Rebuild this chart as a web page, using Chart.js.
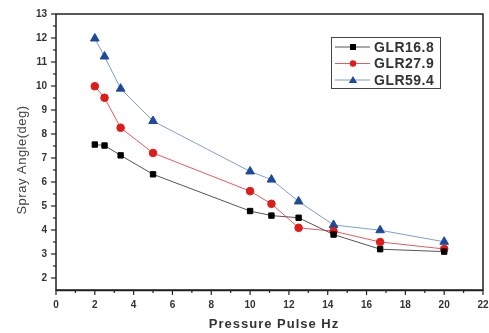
<!DOCTYPE html>
<html>
<head>
<meta charset="utf-8">
<script src="https://cdn.jsdelivr.net/npm/chart.js@4"></script>
<style>
  html, body { margin: 0; padding: 0; background: #fff; }
  #wrap { width: 489px; height: 333px; }
</style>
</head>
<body>
<div id="wrap"><canvas id="sprayChart"></canvas></div>
<script>
const pulseHz = [2, 2.5, 3.33, 5, 10, 11.1, 12.5, 14.3, 16.7, 20]
const glr168 = [7.56, 7.52, 7.11, 6.32, 4.79, 4.6, 4.51, 3.81, 3.2, 3.1]
const glr279 = [9.99, 9.51, 8.26, 7.21, 5.62, 5.09, 4.09, 3.95, 3.5, 3.21]
const glr594 = [11.98, 11.23, 9.89, 8.54, 6.44, 6.1, 5.19, 4.21, 3.99, 3.51]
const seriesNames = ['GLR16.8', 'GLR27.9', 'GLR59.4']
const xTicks = [0, 2, 4, 6, 8, 10, 12, 14, 16, 18, 20, 22]
const yTicks = [2, 3, 4, 5, 6, 7, 8, 9, 10, 11, 12, 13]

const toPoints = (vals) => vals.map((v, i) => ({ x: pulseHz[i], y: v }))

const tickFont = { family: 'Liberation Sans', size: 10, weight: 'bold' }

// frame, tick marks, titles and legend box
const decor = {
    id: 'decor',
    afterDraw(chart) {
        const ctx = chart.ctx
        const a = chart.chartArea
        const xs = chart.scales.x
        const ys = chart.scales.y
        ctx.save()
        ctx.strokeStyle = '#222'
        ctx.lineWidth = 1.5
        ctx.strokeRect(a.left, a.top, a.right - a.left, a.bottom - a.top)
        ctx.lineWidth = 1.5
        ctx.beginPath()
        ctx.moveTo(a.left, a.bottom + 0.5)
        ctx.lineTo(a.right, a.bottom + 0.5)
        ctx.stroke()
        ctx.lineWidth = 1.2
        for (let v = 0; v <= 22; v++) {
            const px = xs.getPixelForValue(v)
            const len = v % 2 === 0 ? 5 : 3
            ctx.beginPath()
            ctx.moveTo(px, a.bottom)
            ctx.lineTo(px, a.bottom + len)
            ctx.stroke()
        }
        for (let v = 2; v <= 13; v += 0.5) {
            const py = ys.getPixelForValue(v)
            const len = Number.isInteger(v) ? 5 : 3
            ctx.beginPath()
            ctx.moveTo(a.left, py)
            ctx.lineTo(a.left - len, py)
            ctx.stroke()
        }

        // axis titles
        ctx.fillStyle = '#333'
        ctx.font = 'bold 13px "Liberation Sans"'
        ctx.textAlign = 'center'
        ctx.textBaseline = 'middle'
        ctx.letterSpacing = '1px'
        ctx.fillText('Pressure Pulse Hz', 274, 324)
        ctx.save()
        ctx.translate(22, 160)
        ctx.rotate(-Math.PI / 2)
        ctx.fillStyle = '#444'
        ctx.font = '13px "Liberation Sans"'
        ctx.letterSpacing = '0.5px'
        ctx.fillText('Spray Angle(deg)', 0, 0)
        ctx.restore()

        // legend
        const lx = 331, ly = 37, lw = 109, lh = 51
        ctx.fillStyle = '#fff'
        ctx.fillRect(lx, ly, lw, lh)
        ctx.strokeStyle = '#444'
        ctx.lineWidth = 1
        ctx.strokeRect(lx + 0.5, ly + 0.5, lw, lh)
        chart.data.datasets.forEach((ds, i) => {
            const cy = ly + 10 + i * 16.5
            ctx.strokeStyle = ds.borderColor
            ctx.lineWidth = 1
            ctx.beginPath()
            ctx.moveTo(lx + 4, cy)
            ctx.lineTo(lx + 39, cy)
            ctx.stroke()
            ctx.fillStyle = ds.pointBackgroundColor
            const mx = lx + 22
            ctx.beginPath()
            if (ds.pointStyle === 'rect') {
                ctx.rect(mx - 3, cy - 3, 6, 6)
            } else if (ds.pointStyle === 'circle') {
                ctx.arc(mx, cy, 3.2, 0, Math.PI * 2)
            } else {
                ctx.moveTo(mx, cy - 4)
                ctx.lineTo(mx + 4.2, cy + 3)
                ctx.lineTo(mx - 4.2, cy + 3)
                ctx.closePath()
            }
            ctx.fill()
            ctx.fillStyle = '#333'
            ctx.font = 'bold 14px "Liberation Sans"'
            ctx.letterSpacing = '0.5px'
            ctx.textAlign = 'left'
            ctx.fillText(ds.label, lx + 43, cy + 1)
        })
        ctx.restore()
    }
}

const data = {
    datasets: [{
        label: seriesNames[0],
        data: toPoints(glr168),
        borderColor: '#555',
        pointBackgroundColor: '#000',
        pointBorderColor: '#000',
        pointStyle: 'rect',
        pointRadius: 3.8,
        borderWidth: 1,
        showLine: true
    },
    {
        label: seriesNames[1],
        data: toPoints(glr279),
        borderColor: '#e8595b',
        pointBackgroundColor: '#e01b1b',
        pointBorderColor: '#e01b1b',
        pointStyle: 'circle',
        pointRadius: 3.8,
        borderWidth: 1,
        showLine: true
    },
    {
        label: seriesNames[2],
        data: toPoints(glr594),
        borderColor: '#7f9fcf',
        pointBackgroundColor: '#1f4a9a',
        pointBorderColor: '#1f4a9a',
        pointStyle: 'triangle',
        pointRadius: 5,
        borderWidth: 1,
        showLine: true
    }]
}

const config = {
    type: 'scatter',
    data: data,
    options: {
        responsive: false,
        animation: false,
        layout: { padding: { top: 14, right: 4, left: 0, bottom: 0 } },
        plugins: { legend: { display: false }, tooltip: { enabled: false } },
        scales: {
            x: {
                type: 'linear',
                min: 0,
                max: 22,
                afterBuildTicks: (s) => { s.ticks = xTicks.map(v => ({ value: v })) },
                afterFit: (s) => { s.height = 43; s.paddingLeft = 0; s.paddingRight = 0 },
                grid: { display: false, drawTicks: false },
                border: { display: false },
                ticks: { font: tickFont, color: '#333', padding: 9, maxRotation: 0 }
            },
            y: {
                type: 'linear',
                min: 1.5,
                max: 13,
                afterBuildTicks: (s) => { s.ticks = yTicks.map(v => ({ value: v })) },
                afterFit: (s) => { s.width = 56; s.paddingTop = 0; s.paddingBottom = 0 },
                grid: { display: false, drawTicks: false },
                border: { display: false },
                ticks: { font: tickFont, color: '#333', padding: 9 }
            }
        }
    },
    plugins: [decor]
}

const canvas = document.getElementById('sprayChart')
canvas.width = 489
canvas.height = 333
new Chart(canvas, config)
</script>
</body>
</html>
